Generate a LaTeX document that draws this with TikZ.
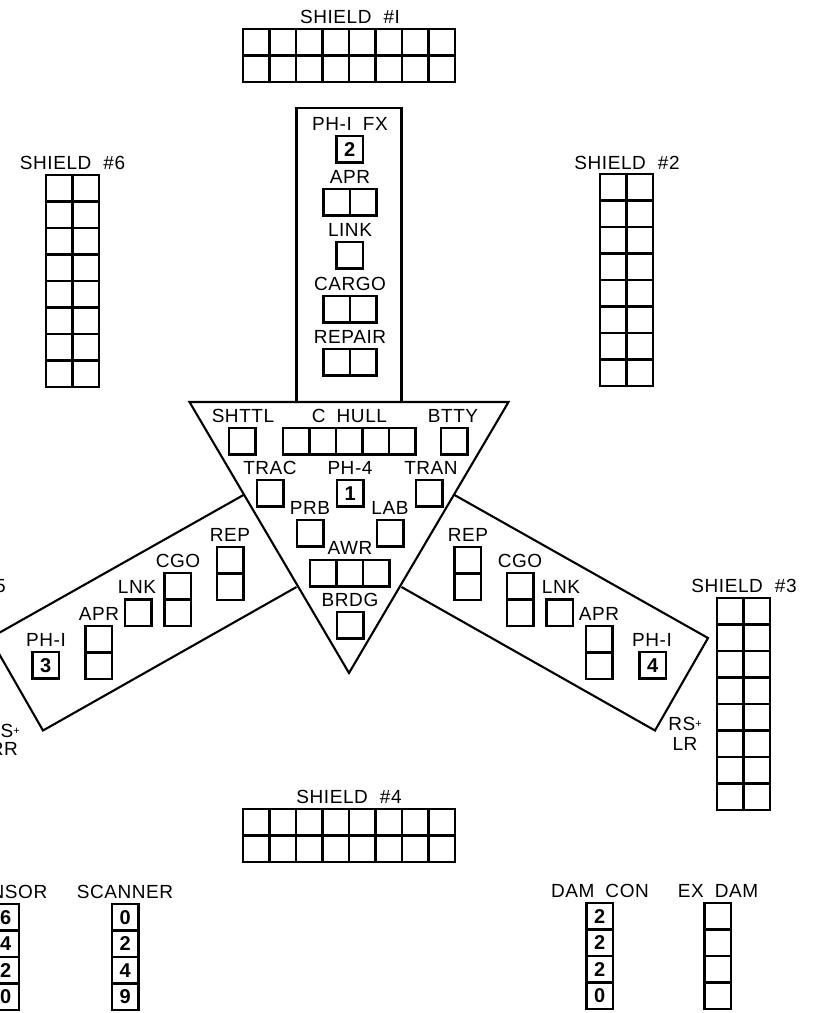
\documentclass[tikz,border=0pt]{standalone}
\usepackage{fontspec}
\newfontfamily\lblfont[LetterSpace=3]{Liberation Sans}
\newfontfamily\numfont{Liberation Sans}
\newcommand{\lblsetup}{\lblfont\fontsize{19}{19}\selectfont\spaceskip=11pt\relax}
\newcommand{\cellgrid}[5]{%
  \foreach \ci in {1,...,#4}{%
    \foreach \cj in {1,...,#5}{%
      \node[cell] (#1-\ci-\cj) at ({#2+(\ci-1)*26.5},{#3+(\cj-1)*26.5}) {};
    }}}
\begin{document}
\begin{tikzpicture}[x=1pt,y=-1pt,
  cell/.style={draw,line width=2.1pt,minimum width=26.5pt,minimum height=26.5pt,
    inner sep=0pt,outer sep=0pt,anchor=north west,
    font=\numfont\bfseries\fontsize{20}{20}\selectfont},
  lbl/.style={inner sep=0pt,anchor=base,font=\lblsetup},
  lble/.style={lbl,anchor=base east},
  hull/.style={draw,line width=2.1pt,line join=miter}]
\useasboundingbox (0,0) rectangle (814,1013);
\clip (0,0) rectangle (814,1013);

% ---------- hull outlines ----------
\coordinate (T1) at (189.5,402);
\coordinate (T2) at (508.5,402);
\coordinate (T3) at (349,673);
\draw[hull] (T1) -- (T2) -- (T3) -- cycle;
\coordinate (B1) at (296.5,402);
\coordinate (B2) at (296.5,108);
\coordinate (B3) at (401.5,108);
\coordinate (B4) at (401.5,402);
\draw[hull] (B1) -- (B2) -- (B3) -- (B4);
\coordinate (L1) at (243.5,495);
\coordinate (L2) at (-10,638);
\coordinate (L3) at (43,730.5);
\coordinate (L4) at (296.5,587);
\draw[hull] (L1) -- (L2) -- (L3) -- (L4);
\coordinate (R1) at (454.5,495);
\coordinate (R2) at (708,638);
\coordinate (R3) at (655,730.5);
\coordinate (R4) at (401.5,587);
\draw[hull] (R1) -- (R2) -- (R3) -- (R4);

% ---------- shields ----------
\node[lbl] (tsh1) at (350,23) {SHIELD\hspace{12pt}\#I};
\cellgrid{sh1}{243}{29}{8}{2}
\node[lbl] (tsh6) at (72.5,169) {SHIELD\hspace{12pt}\#6};
\cellgrid{sh6}{46}{175}{2}{8}
\node[lbl] (tsh2) at (627,169) {SHIELD\hspace{12pt}\#2};
\cellgrid{sh2}{600}{174}{2}{8}
\node[lbl] (tsh3) at (744,592) {SHIELD\hspace{12pt}\#3};
\cellgrid{sh3}{717}{598}{2}{8}
\node[lbl] (tsh4) at (349,803) {SHIELD\hspace{12pt}\#4};
\cellgrid{sh4}{243}{809}{8}{2}
\node[lbl] (tsh5) at (-47,592) {SHIELD\hspace{12pt}\#5};

% ---------- forward boom ----------
\node[lbl] (tphfx) at (350,130) {PH-I FX};
\node[cell] (phfx) at (336.5,136) {2};
\node[lbl] (tapr) at (350,183) {APR};
\cellgrid{apr}{323.5}{189}{2}{1}
\node[lbl] (tlink) at (350,236) {LINK};
\cellgrid{link}{336.5}{242}{1}{1}
\node[lbl] (tcargo) at (350,290) {CARGO};
\cellgrid{cargo}{323.5}{296}{2}{1}
\node[lbl] (trepair) at (350,343) {REPAIR};
\cellgrid{repair}{323.5}{349}{2}{1}

% ---------- saucer (triangle) ----------
\node[lbl] (tshttl) at (243,422) {SHTTL};
\cellgrid{shttl}{229}{428}{1}{1}
\node[lbl] (tchull) at (349.5,422) {C HULL};
\cellgrid{chull}{283}{428}{5}{1}
\node[lbl] (tbtty) at (453,422) {BTTY};
\cellgrid{btty}{441}{428}{1}{1}
\node[lbl] (ttrac) at (270,474) {TRAC};
\cellgrid{trac}{257}{480}{1}{1}
\node[lbl] (tph4) at (350,474) {PH-4};
\node[cell] (ph4) at (337,480) {1};
\node[lbl] (ttran) at (431,474) {TRAN};
\cellgrid{tran}{416}{480}{1}{1}
\node[lbl] (tprb) at (310,514) {PRB};
\cellgrid{prb}{297}{520}{1}{1}
\node[lbl] (tlab) at (390,514) {LAB};
\cellgrid{lab}{377}{520}{1}{1}
\node[lbl] (tawr) at (350,554) {AWR};
\cellgrid{awr}{310}{560}{3}{1}
\node[lbl] (tbrdg) at (350,606) {BRDG};
\cellgrid{brdg}{337}{612}{1}{1}

% ---------- left nacelle ----------
\node[lbl] (tlrep) at (230,541) {REP};
\cellgrid{lrep}{217}{547}{1}{2}
\node[lbl] (tlcgo) at (178,567) {CGO};
\cellgrid{lcgo}{164.5}{573}{1}{2}
\node[lbl] (tllnk) at (137,593.5) {LNK};
\cellgrid{llnk}{125}{599.5}{1}{1}
\node[lbl] (tlapr) at (99,620) {APR};
\cellgrid{lapr}{85.5}{626}{1}{2}
\node[lbl] (tlph) at (46,646) {PH-I};
\node[cell] (lph) at (32.5,652) {3};
\node[lble] (tlrs) at (20,737) {LS\raisebox{3pt}{\fontsize{11}{11}\selectfont+}};
\node[lble] (tlrr) at (18,755) {RR};

% ---------- right nacelle ----------
\node[lbl] (trrep) at (468,541) {REP};
\cellgrid{rrep}{454.5}{547}{1}{2}
\node[lbl] (trcgo) at (520,567) {CGO};
\cellgrid{rcgo}{507}{573}{1}{2}
\node[lbl] (trlnk) at (561,593.5) {LNK};
\cellgrid{rlnk}{546.5}{599.5}{1}{1}
\node[lbl] (trapr) at (599,620) {APR};
\cellgrid{rapr}{586}{626}{1}{2}
\node[lbl] (trph) at (652,646) {PH-I};
\node[cell] (rph) at (639.5,652) {4};
\node[lbl] (trrs) at (685,730) {RS\raisebox{3pt}{\fontsize{11}{11}\selectfont+}};
\node[lbl] (trlr) at (685,750) {LR};

% ---------- tracks ----------
\node[lbl] (tsensor) at (5.75,898) {SENSOR};
\foreach \d [count=\k] in {6,4,2,0}
  \node[cell] (sensor-\k) at (-7.5,{904+(\k-1)*26.5}) {\d};
\node[lbl] (tscanner) at (125,898) {SCANNER};
\foreach \d [count=\k] in {0,2,4,9}
  \node[cell] (scanner-\k) at (112,{904+(\k-1)*26.5}) {\d};
\node[lbl] (tdamcon) at (600,897) {DAM CON};
\foreach \d [count=\k] in {2,2,2,0}
  \node[cell] (damcon-\k) at (586.5,{903+(\k-1)*26.5}) {\d};
\node[lbl] (texdam) at (718,897) {EX DAM};
\cellgrid{exdam}{704.5}{903}{1}{4}
\end{tikzpicture}
\end{document}
